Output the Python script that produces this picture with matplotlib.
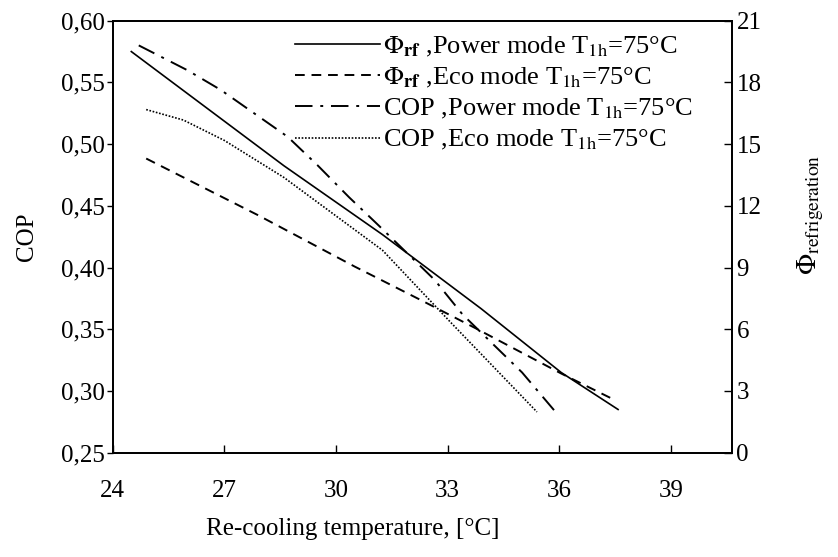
import matplotlib
matplotlib.use('Agg')
import matplotlib.pyplot as plt
from matplotlib.ticker import FuncFormatter, MultipleLocator

plt.rcParams['font.family'] = ['Liberation Serif', 'DejaVu Serif']
plt.rcParams['mathtext.fontset'] = 'stix'

# re-cooling temperature [°C] and values
x_phi_power = [24.5, 28.6, 31.25, 33.9, 36.05, 37.58]
phi_power = [19.5, 13.95, 10.6, 7.0, 3.9, 2.1]

x_phi_eco = [24.9, 27.9, 30.5, 32.3, 33.75, 36.05, 37.5]
phi_eco = [14.3, 11.55, 9.05, 7.4, 6.05, 3.85, 2.55]

x_cop_power = [24.7, 26.0, 26.9, 27.8, 28.7, 29.5, 30.35, 31.15, 32.65, 33.4, 35.0, 35.9]
cop_power = [0.580, 0.560, 0.544, 0.525, 0.506, 0.483, 0.457, 0.434, 0.390, 0.362, 0.315, 0.283]

x_cop_eco = [24.9, 25.9, 27.0, 28.6, 31.25, 33.1, 35.4]
cop_eco = [0.528, 0.5195, 0.503, 0.473, 0.414, 0.355, 0.283]

labels = [r'$\Phi_{\mathbf{rf}}$ ,Power mode T$_{\mathrm{1h}}$=75°C',
          r'$\Phi_{\mathbf{rf}}$ ,Eco mode T$_{\mathrm{1h}}$=75°C',
          r'COP ,Power mode T$_{\mathrm{1h}}$=75°C',
          r'COP ,Eco mode T$_{\mathrm{1h}}$=75°C']

fig = plt.figure(figsize=(8.38, 5.57), dpi=100)
ax = fig.add_axes([0.1345, 0.1873, 0.7394, 0.7755])
ax2 = ax.twinx()

l3, = ax.plot(x_cop_power, cop_power, color='black', lw=1.4, dashes=(9, 4, 1.5, 4))
l4, = ax.plot(x_cop_eco, cop_eco, color='black', lw=1.2, linestyle=(0, (1, 1)))
l1, = ax2.plot(x_phi_power, phi_power, color='black', lw=1.2, linestyle='-')
l2, = ax2.plot(x_phi_eco, phi_eco, color='black', lw=1.4, dashes=(5, 3.5))

ax.set_xlim(24, 40.65)
ax.set_ylim(0.25, 0.60)
ax2.set_ylim(0, 21)

ax.xaxis.set_major_locator(MultipleLocator(3))
ax.yaxis.set_major_locator(MultipleLocator(0.05))
ax2.yaxis.set_major_locator(MultipleLocator(3))
ax.yaxis.set_major_formatter(FuncFormatter(lambda v, p: f'{v:.2f}'.replace('.', ',')))

fs = 18
ax.tick_params(axis='x', direction='in', length=6, width=1, labelsize=fs, pad=20)
ax.tick_params(axis='y', direction='out', length=4, width=1, labelsize=fs, pad=2)
ax2.tick_params(axis='y', direction='in', length=6, width=1, labelsize=fs, pad=3)
for a in (ax, ax2):
    for s in a.spines.values():
        s.set_linewidth(1.3)

ax.set_ylabel('COP', fontsize=fs, labelpad=16)
fig.text(0.421, 0.05, 'Re-cooling temperature, [°C]', fontsize=fs, ha='center', va='center')
fig.text(0.968, 0.615, r'$\Phi_{\mathrm{refrigeration}}$', fontsize=20, rotation=90,
         ha='center', va='center')

ax.legend([l1, l2, l3, l4], labels, loc='upper left', bbox_to_anchor=(0.295, 0.967),
          frameon=False, fontsize=19, handlelength=3.2, handletextpad=0.1,
          labelspacing=0.26, borderpad=0, borderaxespad=0)

fig.savefig('out.png', dpi=100)
